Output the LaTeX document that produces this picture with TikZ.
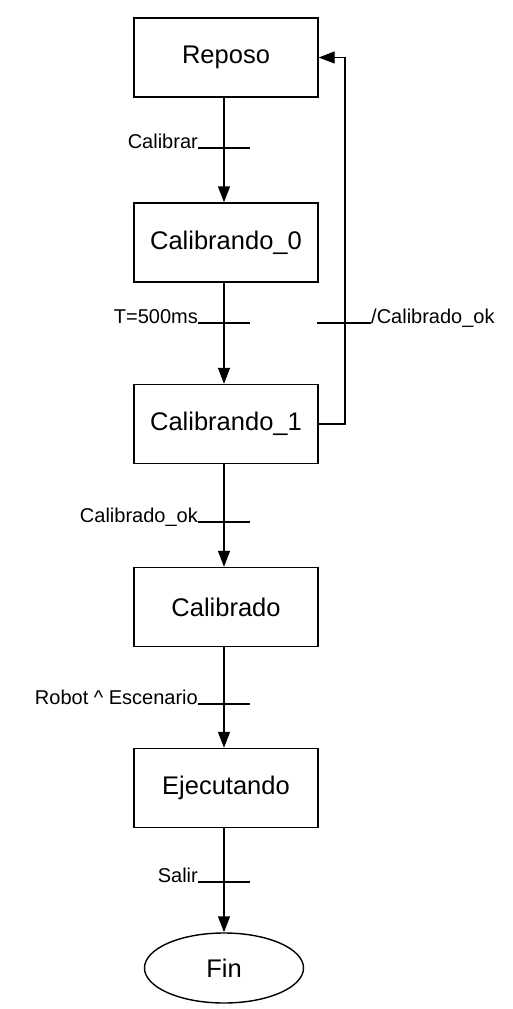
\documentclass[tikz,border=0pt]{standalone}
\usepackage{fontspec}
\setmainfont{Liberation Sans}
\usetikzlibrary{arrows.meta,shapes.geometric}
\begin{document}
\begin{tikzpicture}[x=1pt,y=-1pt,
  state/.style={draw,line width=1.4pt,minimum width=184pt,minimum height=79pt,inner sep=0pt,font=\fontsize{25.5}{30}\selectfont},
  final/.style={draw,ellipse,line width=1.4pt,minimum width=159pt,minimum height=70pt,inner sep=0pt,font=\fontsize{25.5}{30}\selectfont},
  flow/.style={line width=1.4pt,-{Triangle[length=16pt,width=12pt]}},
  tick/.style={line width=1.1pt},
  lbl/.style={inner sep=0pt,font=\fontsize{20}{24}\selectfont}]
\useasboundingbox (0,0) rectangle (512,1009);
\node[state] (rep) at (226,57.5) {Reposo};
\node[state] (c0) at (226,242.5) {Calibrando\_0};
\node[state] (c1) at (226,424) {Calibrando\_1};
\node[state] (cal) at (226,607) {Calibrado};
\node[state] (eje) at (226,788) {Ejecutando};
\node[final] (fin) at (224,968) {Fin};
\draw[flow] (rep.south -| 224,0) -- (c0.north -| 224,0);
\draw[flow] (c0.south -| 224,0) -- (c1.north -| 224,0);
\draw[flow] (c1.south -| 224,0) -- (cal.north -| 224,0);
\draw[flow] (cal.south -| 224,0) -- (eje.north -| 224,0);
\draw[flow] (eje.south -| 224,0) -- (fin.north);
\coordinate (ret) at (345,0);
\draw[flow] (c1.east) -- (c1.east -| ret) -- (rep.east -| ret) -- (rep.east);
% transitions
\node[lbl,anchor=base east] (t1) at (198,148) {Calibrar};
\draw[tick] (t1.base east) -- ++(52,0);
\node[lbl,anchor=base east] (t2) at (198,323) {T=500ms};
\draw[tick] (t2.base east) -- ++(52,0);
\node[lbl,anchor=base west] (t3) at (371,323) {/Calibrado\_ok};
\draw[tick] (t3.base west) -- ++(-54,0);
\node[lbl,anchor=base east] (t4) at (198,522) {Calibrado\_ok};
\draw[tick] (t4.base east) -- ++(52,0);
\node[lbl,anchor=base east] (t5) at (198,704) {Robot \textasciicircum{} Escenario};
\draw[tick] (t5.base east) -- ++(52,0);
\node[lbl,anchor=base east] (t6) at (198,882) {Salir};
\draw[tick] (t6.base east) -- ++(52,0);
\end{tikzpicture}
\end{document}
